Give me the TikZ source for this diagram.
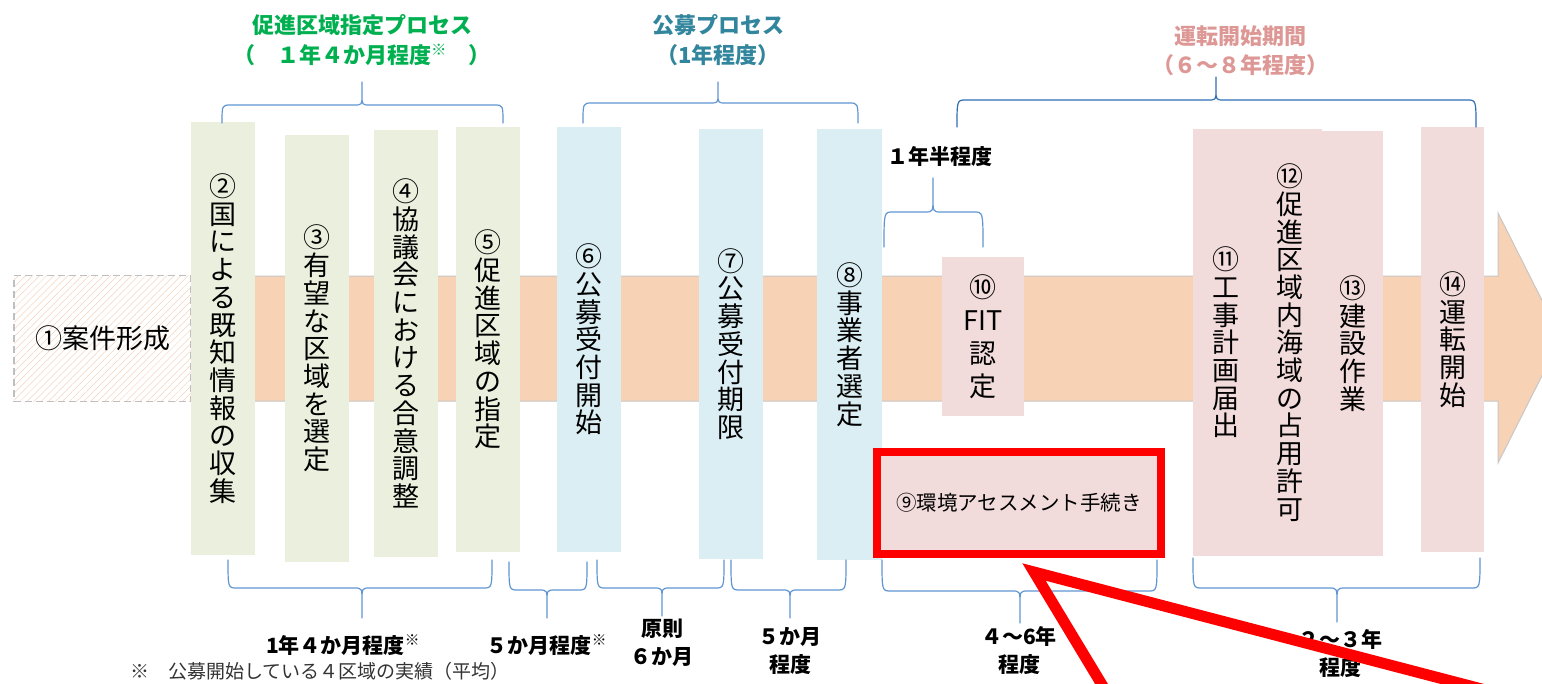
\documentclass[tikz,border=0pt]{standalone}
\usepackage{fontspec}
\setmainfont{Noto Sans CJK JP}
\usetikzlibrary{patterns.meta}
\definecolor{bandpeach}{HTML}{F8D2B4}
\definecolor{hatchpeach}{HTML}{F5D3BE}
\definecolor{boxgreen}{HTML}{EBF0DE}
\definecolor{boxblue}{HTML}{DAEEF3}
\definecolor{boxpink}{HTML}{F2DCDB}
\definecolor{bracelight}{HTML}{5F95D2}
\definecolor{bracedark}{HTML}{2E6DB4}
\definecolor{titlegreen}{HTML}{00B050}
\definecolor{titleteal}{HTML}{31859C}
\definecolor{titlepink}{HTML}{DD9896}

% vertical (tate) text: one glyph per line
\def\tateloop#1{\ifx\relax#1\else\hbox to 1em{\hss#1\hss}\expandafter\tateloop\fi}
\newcommand{\tate}[1]{\vbox{\tateloop#1\relax}}

% curly brace: left x, right x, peak x, bar y, ends y, peak y, style
\newcommand{\curlybrace}[7]{%
	\draw[#7] (#1,#5) .. controls (#1,#4) .. (#1+9,#4) -- (#3-8,#4)
	.. controls (#3,#4) .. (#3,{#4+0.45*(#6-#4)}) -- (#3,#6) -- (#3,{#4+0.45*(#6-#4)})
	.. controls (#3,#4) .. (#3+8,#4) -- (#2-9,#4)
	.. controls (#2,#4) .. (#2,#5);}

\begin{document}
\begin{tikzpicture}[x=1pt, y=-1pt, line cap=round, line join=round,
	boxtext/.style={font=\fontsize{27}{27.7}\selectfont, inner sep=0pt},
	greenbox/.style={boxtext, fill=boxgreen, minimum width=64},
	bluebox/.style={boxtext, fill=boxblue, minimum width=64},
	pinkbox/.style={boxtext, fill=boxpink, minimum width=64},
	titletext/.style={font=\bfseries\fontsize{22}{30}\selectfont, align=center},
	spanlabel/.style={font=\bfseries\fontsize{21}{28}\selectfont, align=center},
	brace/.style={bracelight, line width=1.2}]
	
	\useasboundingbox (0,0) rectangle (1542,683);
	
	%========================
	% Time arrow
	%========================
	\fill[bandpeach, draw=black!22, line width=1, line join=miter]
	(191,276) -- (1498,276) -- (1498,213) -- (1561,338) -- (1498,463) -- (1498,401) -- (191,401) -- cycle;
	
	% step 1 (hatched, dashed)
	\node[draw=black!25, line width=1.2, dash pattern=on 7pt off 4pt, line cap=butt,
	preaction={fill=white}, pattern={Lines[angle=45, distance=5pt, line width=0.5pt]},
	pattern color=hatchpeach, minimum width=177, minimum height=126, inner sep=0,
	font=\fontsize{27}{28}\selectfont] (n1) at (102.5,338.5) {①案件形成};
	
	%========================
	% Steps 2-8: designation and tender
	%========================
	\node[greenbox, minimum height=433] (n2) at (223,338.5) {\tate{②国による既知情報の収集}};
	\node[greenbox, minimum height=427] (n3) at (317,348.5) {\tate{③有望な区域を選定}};
	\node[greenbox, minimum height=427] (n4) at (406,343.5) {\tate{④協議会における合意調整}};
	\node[greenbox, minimum height=425] (n5) at (488,339.5) {\tate{⑤促進区域の指定}};
	\node[bluebox, minimum height=425] (n6) at (589,339.5) {\tate{⑥公募受付開始}};
	\node[bluebox, minimum height=430] (n7) at (731,344) {\tate{⑦公募受付期限}};
	\node[bluebox, minimum width=65, minimum height=431] (n8) at (849.5,344.5) {\tate{⑧事業者選定}};
	
	%========================
	% Steps 9-14: up to operation
	%========================
	\node[pinkbox, minimum width=82, minimum height=159, align=center,
	font=\fontsize{27}{33}\selectfont] (n10) at (983,336.5) {⑩\\FIT\\認\\定};
	\node[pinkbox, minimum width=65, minimum height=427] (n11) at (1225.5,342.5) {\tate{⑪工事計画届出}};
	\node[pinkbox, minimum height=427] (n12) at (1290,342.5) {\tate{⑫促進区域内海域の占用許可}};
	\node[pinkbox, minimum width=61, minimum height=425] (n13) at (1352.5,343.5) {\tate{⑬建設作業}};
	\node[pinkbox, minimum width=63, minimum height=425] (n14) at (1452.5,339.5) {\tate{⑭運転開始}};
	
	% step 9, framed in red
	\node[draw=red, fill=boxpink, line width=8, line join=miter, minimum width=284,
	minimum height=102, inner sep=0, font=\fontsize{20.5}{24}\selectfont]
	(n9) at (1019,503) {⑨環境アセスメント手続き};
	
	%========================
	% Braces and periods
	%========================
	% top
	\curlybrace{222}{503}{362}{105}{123}{82}{brace}
	\curlybrace{583}{858}{718}{103}{123}{82}{brace}
	\curlybrace{957}{1476}{1216}{100}{127}{77}{brace, bracedark}
	\curlybrace{884}{983}{933}{212}{247}{178}{brace}
	% bottom
	\curlybrace{228}{492}{362}{588}{560}{618}{brace}
	\curlybrace{509}{587}{547}{590}{562}{618}{brace}
	\curlybrace{597}{724}{662}{588}{560}{616}{brace}
	\curlybrace{731}{846}{790}{590}{560}{618}{brace}
	\curlybrace{882}{1157}{1020}{591}{560}{623}{brace}
	\curlybrace{1193}{1480}{1337}{588}{558}{622}{brace}
	
	\node[titletext, text=titlegreen] (ttlA) at (362,40) {促進区域指定プロセス\\（　１年４か月程度\textsuperscript{※}　）};
	\node[titletext, text=titleteal] (ttlB) at (718,40) {公募プロセス\\（1年程度）};
	\node[titletext, text=titlepink, font=\bfseries\fontsize{22}{29}\selectfont] (ttlC) at (1240,51) {運転開始期間\\（６～８年程度）};
	\node[spanlabel] (spanE) at (940,157) {１年半程度};
	
	\node[spanlabel] (span1) at (343,645) {1年４か月程度\textsuperscript{※}};
	\node[spanlabel] (span2) at (547,645) {５か月程度\textsuperscript{※}};
	\node[spanlabel] (span3) at (662,643) {原則\\６か月};
	\node[spanlabel] (span4) at (790,651) {５か月\\程度};
	\node[spanlabel] (span5) at (1019,651) {４～6年\\程度};
	\node[spanlabel] (span6) at (1340,654) {２～３年\\程度};
	\node[font=\fontsize{19}{22}\selectfont, text=black!80] (note) at (320,671) {※　公募開始している４区域の実績（平均）};
	
	%========================
	% Red call-out pointer
	%========================
	\coordinate (tip) at (1034,572);
	\coordinate (legL) at (1113,703);
	\coordinate (legR) at (1562,710);
	\draw[red, line width=11, line join=miter, line cap=butt] (legL) -- (tip) -- (legR);
	
\end{tikzpicture}
\end{document}
